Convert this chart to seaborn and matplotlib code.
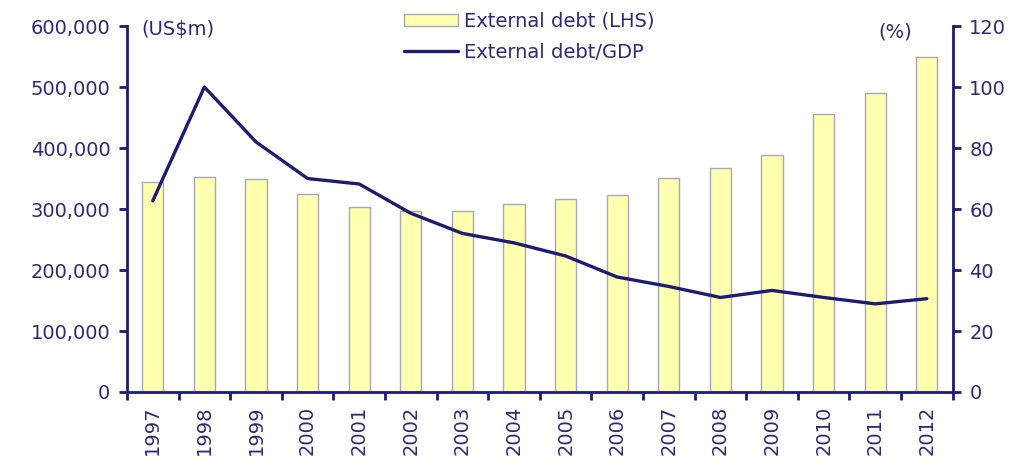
import numpy as np
import pandas as pd
import matplotlib
matplotlib.use("Agg")
import matplotlib.pyplot as plt
from matplotlib.patches import Patch
from matplotlib.lines import Line2D
from matplotlib.ticker import FuncFormatter, MultipleLocator
import seaborn as sns

# External debt (US$m, left axis) and external debt as % of GDP (right axis)
years = ["1997", "1998", "1999", "2000", "2001", "2002", "2003", "2004",
         "2005", "2006", "2007", "2008", "2009", "2010", "2011", "2012"]
external_debt = [344000, 352000, 349000, 325000, 303000, 297000, 297000, 308000,
                 316000, 323000, 351000, 367000, 389000, 455000, 490000, 549000]
debt_to_gdp = [62.7, 100.0, 82.0, 70.0, 68.2, 58.6, 52.0, 48.9,
               44.6, 37.7, 34.6, 31.0, 33.3, 31.0, 28.9, 30.6]

navy = "#1c1c72"
text_col = "#2b2b7a"
bar_fill = "#ffffb0"
bar_edge = "#a8a8bc"
fs = 14

sns.set_theme(style="white")
plt.rcParams["font.family"] = ["DejaVu Sans"]
plt.rcParams["font.size"] = fs

df = pd.DataFrame({"year": years, "debt": external_debt, "ratio": debt_to_gdp})

fig = plt.figure(figsize=(10.2, 4.65), dpi=100)
ax = fig.add_axes([0.1245, 0.157, 0.8095, 0.787])

sns.barplot(data=df, x="year", y="debt", ax=ax, color=bar_fill,
            edgecolor=bar_edge, linewidth=1.0, width=0.41, saturation=1)

ax.set_ylim(0, 600000)
ax.set_xlim(-0.5, len(years) - 0.5)
ax.yaxis.set_major_locator(MultipleLocator(100000))
ax.yaxis.set_major_formatter(FuncFormatter(lambda v, p: f"{int(v):,}"))
ax.set_xlabel("")
ax.set_ylabel("")

ax2 = ax.twinx()
sns.lineplot(x=np.arange(len(years)), y=df["ratio"], ax=ax2, color=navy,
             linewidth=2.4, legend=False)
ax2.set_ylim(0, 120)
ax2.yaxis.set_major_locator(MultipleLocator(20))
ax2.set_ylabel("")
ax2.set_xlim(-0.5, len(years) - 0.5)

# Spines: left, bottom and right axes in navy
for a in (ax, ax2):
    a.spines["top"].set_visible(False)
    for side in ("left", "right", "bottom"):
        a.spines[side].set_color(navy)
        a.spines[side].set_linewidth(2.0)
ax.spines["right"].set_visible(False)
ax2.spines["left"].set_visible(False)
ax2.spines["bottom"].set_visible(False)

# Category labels centred on bars, tick marks between categories
ax.set_xticks(np.arange(len(years)))
ax.set_xticklabels(years, rotation=90)
ax.set_xticks(np.arange(-0.5, len(years)), minor=True)
ax.tick_params(axis="x", which="major", length=0, pad=10, labelsize=fs,
               labelcolor=text_col)
ax.tick_params(axis="x", which="minor", direction="out", length=6, width=2,
               color=navy, bottom=True)
ax.tick_params(axis="y", direction="out", length=6, width=2, color=navy,
               labelsize=fs, labelcolor=text_col, left=True, pad=6)
ax2.tick_params(axis="y", direction="out", length=6, width=2, color=navy,
                labelsize=fs, labelcolor=text_col, right=True, pad=6)

ax.text(0.017, 0.99, "(US$m)", transform=ax.transAxes, ha="left", va="center",
        color=text_col, fontsize=fs)
ax2.text(0.93, 0.985, "(%)", transform=ax2.transAxes, ha="center", va="center",
         color=text_col, fontsize=fs)

handles = [Patch(facecolor=bar_fill, edgecolor=bar_edge, linewidth=1.0),
           Line2D([0], [0], color=navy, linewidth=2.4)]
fig.legend(handles, ["External debt (LHS)", "External debt/GDP"],
           loc="upper left", bbox_to_anchor=(0.379, 1.012), frameon=False,
           handlelength=2.75, handleheight=0.6, handletextpad=0.35,
           labelspacing=0.62, fontsize=fs, labelcolor=text_col)

fig.savefig("out.png", dpi=100)
